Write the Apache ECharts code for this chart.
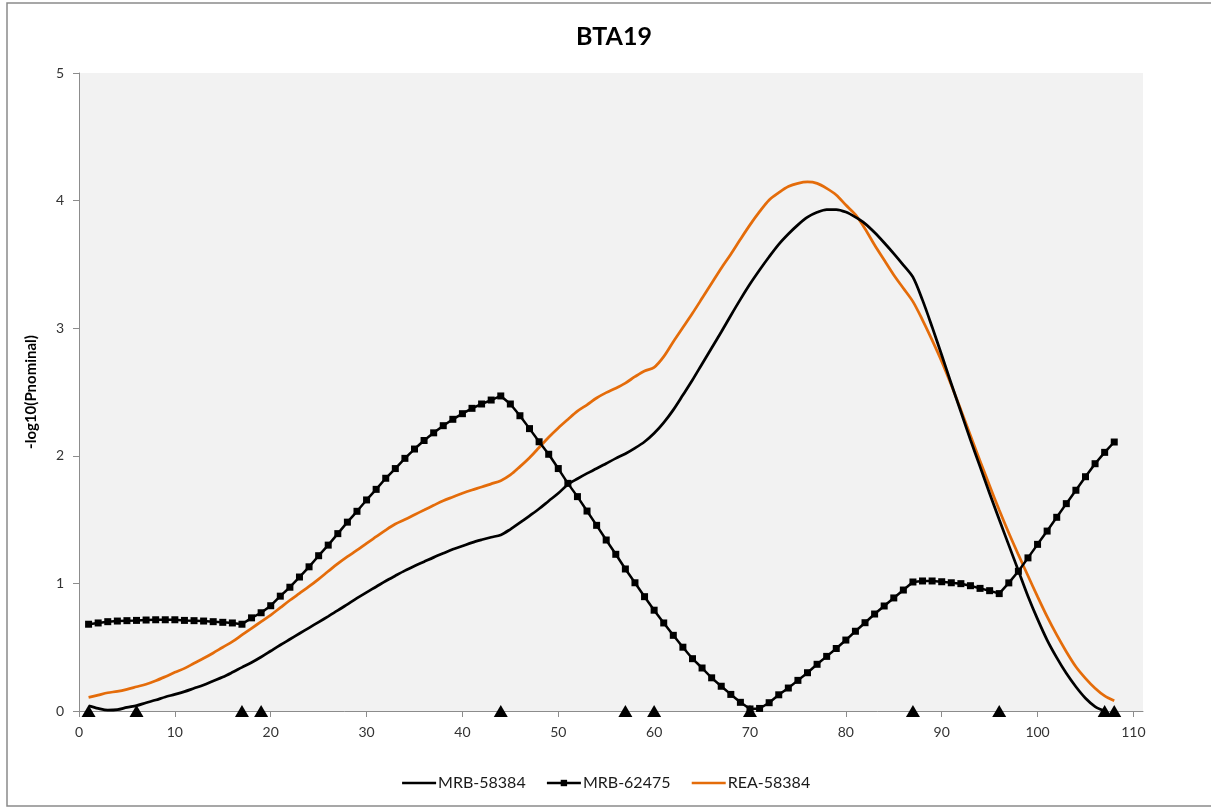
<!DOCTYPE html>
<html>
<head>
<meta charset="utf-8">
<title>BTA19</title>
<script src="https://cdn.jsdelivr.net/npm/echarts@6/dist/echarts.min.js"></script>
<style>
  html, body { margin: 0; padding: 0; background: #ffffff; }
  #chart { width: 1211px; height: 808px; }
</style>
</head>
<body>
<div id="chart"></div>
<script>
// Map positions (cM), one per scan step
const positionsCM = [1,2,3,4,5,6,7,8,9,10,11,12,13,14,15,16,17,18,19,20,21,22,23,24,25,26,27,28,29,30,
  31,32,33,34,35,36,37,38,39,40,41,42,43,44,45,46,47,48,49,50,51,52,53,54,55,56,57,58,59,60,
  61,62,63,64,65,66,67,68,69,70,71,72,73,74,75,76,77,78,79,80,81,82,83,84,85,86,87,88,89,90,
  91,92,93,94,95,96,97,98,99,100,101,102,103,104,105,106,107,108];

// -log10(P nominal) profiles
const mrb58384 = [0.04,0.02,0.006,0.01,0.028,0.042,0.065,0.086,0.11,0.13,0.152,0.178,0.204,0.235,0.266,0.303,0.342,0.38,0.423,0.47,
  0.517,0.562,0.607,0.652,0.697,0.742,0.788,0.836,0.884,0.93,0.974,1.019,1.06,1.10,1.136,1.17,1.204,1.236,1.267,1.293,
  1.32,1.342,1.362,1.38,1.424,1.476,1.53,1.585,1.646,1.706,1.775,1.82,1.862,1.90,1.94,1.98,2.016,2.06,2.11,2.176,
  2.26,2.36,2.476,2.594,2.72,2.845,2.97,3.10,3.226,3.346,3.456,3.56,3.657,3.738,3.81,3.87,3.908,3.93,3.93,3.91,
  3.87,3.82,3.75,3.67,3.585,3.495,3.40,3.22,3.01,2.79,2.565,2.345,2.125,1.915,1.705,1.50,1.30,1.10,0.90,0.72,
  0.556,0.418,0.295,0.19,0.10,0.035,0.0];

const mrb62475 = [0.68,0.69,0.70,0.705,0.708,0.71,0.713,0.715,0.715,0.715,0.71,0.708,0.705,0.70,0.695,0.69,0.68,0.73,0.77,0.825,
  0.90,0.97,1.05,1.13,1.217,1.30,1.39,1.48,1.565,1.654,1.737,1.824,1.90,1.98,2.053,2.12,2.18,2.236,2.286,2.33,
  2.372,2.406,2.437,2.469,2.406,2.314,2.213,2.11,2.012,1.90,1.784,1.68,1.567,1.455,1.34,1.228,1.113,1.005,0.896,0.79,
  0.69,0.593,0.50,0.41,0.337,0.26,0.194,0.13,0.068,0.016,0.02,0.065,0.127,0.18,0.24,0.30,0.366,0.428,0.49,0.556,
  0.625,0.692,0.76,0.823,0.886,0.948,1.011,1.019,1.019,1.013,1.005,0.998,0.982,0.961,0.943,0.92,1.004,1.095,1.20,1.306,
  1.41,1.518,1.625,1.73,1.836,1.938,2.027,2.108];

const rea58384 = [0.107,0.125,0.143,0.154,0.17,0.19,0.21,0.237,0.269,0.303,0.334,0.374,0.413,0.455,0.50,0.543,0.596,0.648,0.70,0.752,
  0.81,0.868,0.922,0.976,1.034,1.095,1.155,1.21,1.26,1.314,1.366,1.418,1.465,1.50,1.538,1.575,1.612,1.648,1.677,1.706,
  1.732,1.755,1.78,1.805,1.85,1.915,1.985,2.065,2.145,2.218,2.285,2.35,2.40,2.453,2.495,2.53,2.57,2.62,2.665,2.693,
  2.777,2.894,3.005,3.117,3.234,3.352,3.47,3.58,3.697,3.81,3.913,4.005,4.062,4.11,4.135,4.146,4.135,4.096,4.044,3.965,
  3.89,3.78,3.652,3.534,3.417,3.313,3.208,3.064,2.907,2.74,2.555,2.36,2.16,1.96,1.765,1.575,1.395,1.225,1.06,0.896,
  0.739,0.596,0.465,0.347,0.256,0.178,0.118,0.08];

// Marker positions along the chromosome
const markerPositions = [1, 6, 17, 19, 44, 57, 60, 70, 87, 96, 107, 108];

const xTicks = [0, 10, 20, 30, 40, 50, 60, 70, 80, 90, 100, 110];
const seriesNames = ['MRB-58384', 'MRB-62475', 'REA-58384'];

const pair = (xs, ys) => ys.map((v, i) => [xs[i], v]);

const FONT = 'Lato, "Open Sans", "Liberation Sans", sans-serif';
const chart = echarts.init(document.getElementById('chart'), null, { renderer: 'canvas' });

chart.setOption({
  backgroundColor: '#ffffff',
  animation: false,
  title: {
    text: 'BTA19',
    left: 609,
    top: 19,
    textAlign: 'center',
    textStyle: { fontFamily: FONT, fontSize: 25, fontWeight: 'bold', color: '#000' }
  },
  graphic: [{
    type: 'rect',
    shape: { x: 7, y: 3, width: 1230, height: 803 },
    style: { fill: 'none', stroke: '#8a8a8a', lineWidth: 1.5 },
    silent: true,
    z: 100
  }],
  grid: {
    left: 79, top: 73, right: 68, bottom: 97,
    show: true, backgroundColor: '#f2f2f2', borderWidth: 0
  },
  legend: {
    data: [
      { name: seriesNames[0], itemStyle: { opacity: 0 } },
      { name: seriesNames[1] },
      { name: seriesNames[2], itemStyle: { opacity: 0 } }
    ],
    left: 'center',
    bottom: 12,
    itemWidth: 34,
    itemHeight: 8,
    itemGap: 20,
    lineStyle: { width: 2.5 },
    textStyle: { fontFamily: FONT, fontSize: 16, color: '#1a1a1a', padding: [0, 0, 0, -3] }
  },
  xAxis: {
    type: 'value',
    min: 0,
    max: 111,
    interval: 10,
    splitLine: { show: false },
    axisLine: { show: true, onZero: false, lineStyle: { color: '#8c8c8c', width: 1 } },
    axisTick: { show: true, inside: false, length: 6, customValues: xTicks, lineStyle: { color: '#8c8c8c' } },
    axisLabel: { customValues: xTicks, margin: 14, fontFamily: FONT, fontSize: 14, color: '#333' }
  },
  yAxis: {
    type: 'value',
    min: 0,
    max: 5,
    interval: 1,
    name: '-log10(Pnominal)',
    nameLocation: 'middle',
    nameGap: 40,
    nameTextStyle: { fontFamily: FONT, fontSize: 15, fontWeight: 'bold', color: '#000' },
    splitLine: { show: false },
    axisLine: { show: true, lineStyle: { color: '#8c8c8c', width: 1 } },
    axisTick: { show: true, inside: false, length: 6, lineStyle: { color: '#8c8c8c' } },
    axisLabel: { margin: 15, fontFamily: FONT, fontSize: 14, color: '#333' }
  },
  series: [
    {
      name: 'MRB-58384',
      type: 'line',
      data: pair(positionsCM, mrb58384),
      smooth: 0.3,
      symbol: 'none',
      lineStyle: { color: '#000000', width: 2.75 },
      itemStyle: { color: '#000000' },
      z: 3
    },
    {
      name: 'MRB-62475',
      type: 'line',
      data: pair(positionsCM, mrb62475),
      smooth: false,
      symbol: 'rect',
      symbolSize: 7,
      showSymbol: true,
      lineStyle: { color: '#000000', width: 2.5 },
      itemStyle: { color: '#000000' },
      z: 4
    },
    {
      name: 'REA-58384',
      type: 'line',
      data: pair(positionsCM, rea58384),
      smooth: 0.3,
      symbol: 'none',
      lineStyle: { color: '#e46c0a', width: 2.75 },
      itemStyle: { color: '#e46c0a' },
      z: 2
    },
    {
      name: 'markers',
      type: 'scatter',
      data: markerPositions.map(p => [p, 0]),
      symbol: 'triangle',
      symbolSize: [14, 12],
      itemStyle: { color: '#000000', opacity: 1 },
      clip: false,
      z: 5
    }
  ]
});
</script>
</body>
</html>
